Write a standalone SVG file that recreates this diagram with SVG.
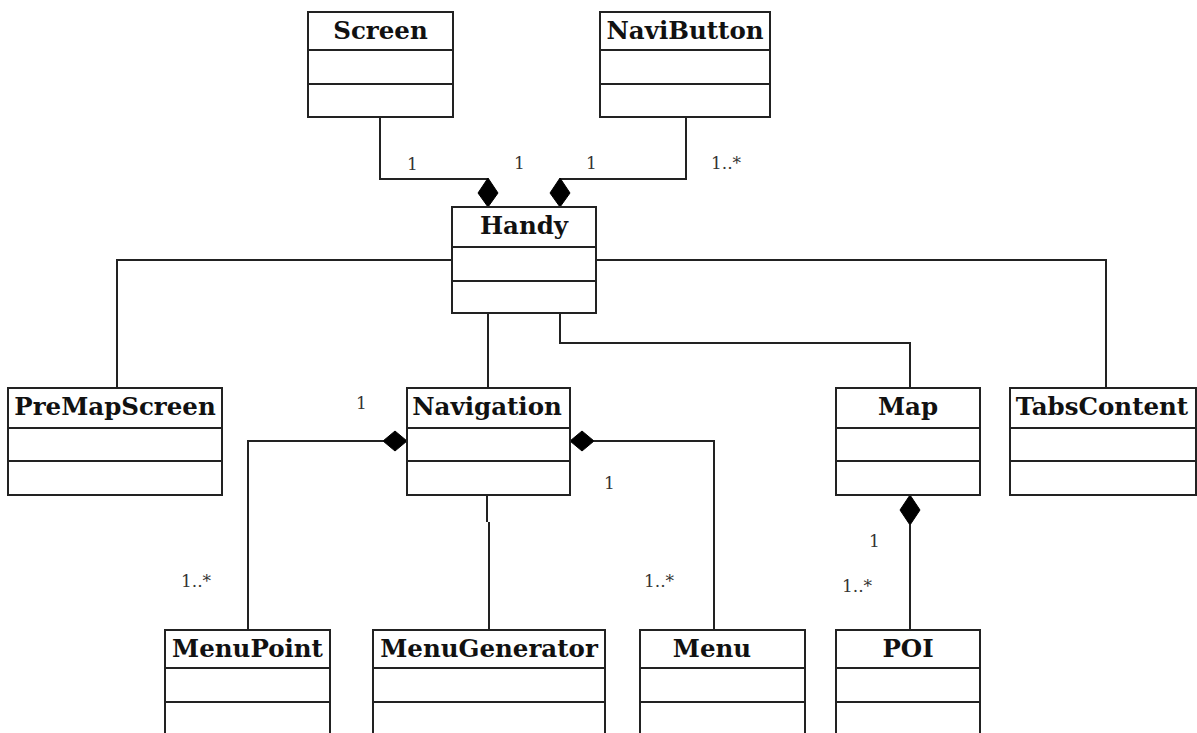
<svg xmlns="http://www.w3.org/2000/svg" width="1197" height="733" viewBox="0 0 1197 733">
  <style>
    .box { fill: #fff; stroke: #222; stroke-width: 2; }
    .sep { stroke: #222; stroke-width: 2; }
    .title { font-family: "DejaVu Serif", "Liberation Serif", serif; font-weight: bold; font-size: 24.5px; fill: #111; text-anchor: middle; }
    .edge { fill: none; stroke: #222; stroke-width: 2; }
    .dia { fill: #000; stroke: #000; stroke-width: 1; }
    .mult { font-family: "DejaVu Serif", "Liberation Serif", serif; font-size: 17px; fill: #333; }
  </style>

  <!-- connectors -->
  <g id="connectors">
    <!-- Screen / NaviButton composed in Handy -->
    <polyline class="edge" points="380,117 380,179 488,179"/>
    <polygon class="dia" points="488,178 498,193 488,207 478,193"/>
    <polyline class="edge" points="686,117 686,179 560,179"/>
    <polygon class="dia" points="560,178 570,193 560,207 550,193"/>
    <!-- Handy associations -->
    <polyline class="edge" points="452,260 117,260 117,388"/>
    <polyline class="edge" points="596,260 1106,260 1106,388"/>
    <polyline class="edge" points="488,313 488,388"/>
    <polyline class="edge" points="560,313 560,343 910,343 910,388"/>
    <!-- Navigation compositions -->
    <polyline class="edge" points="383,441 248,441 248,630"/>
    <polygon class="dia" points="407,441 395,451 383,441 395,431"/>
    <polyline class="edge" points="594,441 714,441 714,630"/>
    <polygon class="dia" points="570,441 582,431 594,441 582,451"/>
    <polyline class="edge" points="487,495 487,522"/>
    <polyline class="edge" points="489,522 489,630"/>
    <!-- Map composition of POI -->
    <polyline class="edge" points="910,525 910,630"/>
    <polygon class="dia" points="910,495 920,510 910,525 900,510"/>
  </g>

  <!-- multiplicities -->
  <g id="labels">
    <text class="mult" x="407" y="170">1</text>
    <text class="mult" x="514" y="169">1</text>
    <text class="mult" x="586" y="169">1</text>
    <text class="mult" x="711" y="169">1..*</text>
    <text class="mult" x="356" y="409">1</text>
    <text class="mult" x="604" y="489">1</text>
    <text class="mult" x="181" y="587">1..*</text>
    <text class="mult" x="644" y="587">1..*</text>
    <text class="mult" x="869" y="547">1</text>
    <text class="mult" x="842" y="592">1..*</text>
  </g>

  <g id="Screen">
    <rect class="box" x="308" y="12" width="145" height="105"/>
    <line class="sep" x1="308" y1="50" x2="453" y2="50"/>
    <line class="sep" x1="308" y1="84" x2="453" y2="84"/>
    <text class="title" x="380.5" y="39">Screen</text>
  </g>

  <g id="NaviButton">
    <rect class="box" x="600" y="12" width="170" height="105"/>
    <line class="sep" x1="600" y1="50" x2="770" y2="50"/>
    <line class="sep" x1="600" y1="84" x2="770" y2="84"/>
    <text class="title" x="685" y="39">NaviButton</text>
  </g>

  <g id="Handy">
    <rect class="box" x="452" y="207" width="144" height="106"/>
    <line class="sep" x1="452" y1="247" x2="596" y2="247"/>
    <line class="sep" x1="452" y1="281" x2="596" y2="281"/>
    <text class="title" x="524" y="234">Handy</text>
  </g>

  <g id="PreMapScreen">
    <rect class="box" x="8" y="388" width="214" height="107"/>
    <line class="sep" x1="8" y1="428" x2="222" y2="428"/>
    <line class="sep" x1="8" y1="461" x2="222" y2="461"/>
    <text class="title" x="115" y="415">PreMapScreen</text>
  </g>

  <g id="Navigation">
    <rect class="box" x="407" y="388" width="163" height="107"/>
    <line class="sep" x1="407" y1="428" x2="570" y2="428"/>
    <line class="sep" x1="407" y1="461" x2="570" y2="461"/>
    <text class="title" x="487" y="415">Navigation</text>
  </g>

  <g id="Map">
    <rect class="box" x="836" y="388" width="144" height="107"/>
    <line class="sep" x1="836" y1="428" x2="980" y2="428"/>
    <line class="sep" x1="836" y1="461" x2="980" y2="461"/>
    <text class="title" x="908" y="415">Map</text>
  </g>

  <g id="TabsContent">
    <rect class="box" x="1010" y="388" width="186" height="107"/>
    <line class="sep" x1="1010" y1="428" x2="1196" y2="428"/>
    <line class="sep" x1="1010" y1="461" x2="1196" y2="461"/>
    <text class="title" x="1102" y="415">TabsContent</text>
  </g>

  <g id="MenuPoint">
    <rect class="box" x="165" y="630" width="165" height="110"/>
    <line class="sep" x1="165" y1="668" x2="330" y2="668"/>
    <line class="sep" x1="165" y1="702" x2="330" y2="702"/>
    <text class="title" x="247.5" y="657">MenuPoint</text>
  </g>

  <g id="MenuGenerator">
    <rect class="box" x="373" y="630" width="232" height="110"/>
    <line class="sep" x1="373" y1="668" x2="605" y2="668"/>
    <line class="sep" x1="373" y1="702" x2="605" y2="702"/>
    <text class="title" x="489" y="657">MenuGenerator</text>
  </g>

  <g id="Menu">
    <rect class="box" x="640" y="630" width="165" height="110"/>
    <line class="sep" x1="640" y1="668" x2="805" y2="668"/>
    <line class="sep" x1="640" y1="702" x2="805" y2="702"/>
    <text class="title" x="712" y="657">Menu</text>
  </g>

  <g id="POI">
    <rect class="box" x="836" y="630" width="144" height="110"/>
    <line class="sep" x1="836" y1="668" x2="980" y2="668"/>
    <line class="sep" x1="836" y1="702" x2="980" y2="702"/>
    <text class="title" x="908" y="657">POI</text>
  </g>
</svg>
